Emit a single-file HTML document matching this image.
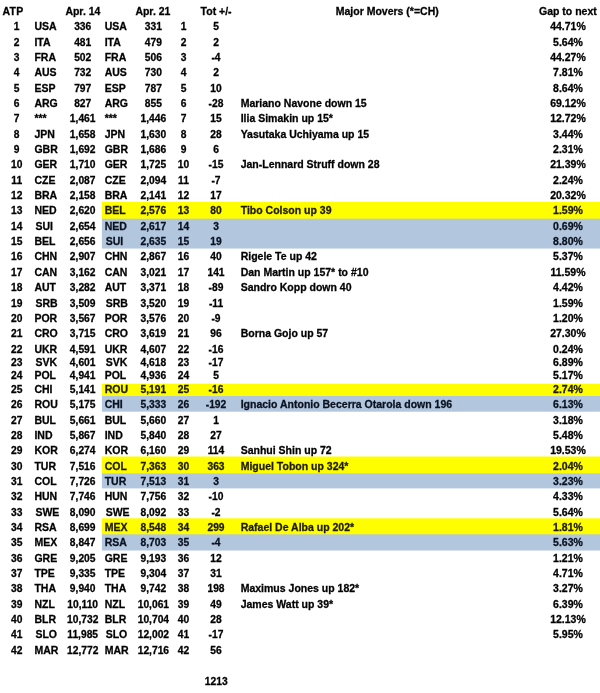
<!DOCTYPE html>
<html><head><meta charset="utf-8"><title>ATP</title>
<style>
html,body{margin:0;padding:0;background:#fff;}
body{width:600px;height:693px;position:relative;overflow:hidden;font-family:"Liberation Sans",sans-serif;font-weight:bold;color:#000;-webkit-text-stroke:0.28px #000;}
.t{position:absolute;height:14px;line-height:14px;white-space:pre;font-size:10.5px;}
.n{font-size:10.25px;height:15px;line-height:15px;}
.c{width:200px;margin-left:-100px;text-align:center;}
.l{text-align:left;}
.y{color:#1e1a00;-webkit-text-stroke-color:#1e1a00;}
.u{color:#0a1220;-webkit-text-stroke-color:#0a1220;}
#w{position:absolute;left:0;top:0;width:640px;height:693px;will-change:transform;filter:blur(0.4px);}
</style></head><body><div id="w">

<svg width="640" height="693" style="position:absolute;left:0;top:0">
<rect x="101.9" y="217.7" width="538.1" height="30.85" fill="#b2c6de"/>
<rect x="101.9" y="395.0" width="538.1" height="16.7" fill="#b2c6de"/>
<rect x="101.9" y="472.4" width="538.1" height="16.0" fill="#b2c6de"/>
<rect x="101.9" y="533.3" width="538.1" height="17.2" fill="#b2c6de"/>
<rect x="101.9" y="201.9" width="538.1" height="16.8" fill="#fffe00"/>
<rect x="101.9" y="383.7" width="538.1" height="12.3" fill="#fffe00"/>
<rect x="101.9" y="456.5" width="538.1" height="16.9" fill="#fffe00"/>
<rect x="101.9" y="518.3" width="538.1" height="16.0" fill="#fffe00"/>
</svg>
<div class="t l" style="left:2.4px;top:4px"><span style="letter-spacing:0.35px">ATP</span></div>
<div class="t c" style="left:82.9px;top:4px">Apr. 14</div>
<div class="t c" style="left:152.9px;top:4px">Apr. 21</div>
<div class="t c" style="left:216.1px;top:4px">Tot +/-</div>
<div class="t c" style="left:387.25px;top:4px">Major Movers (*=CH)</div>
<div class="t c" style="left:567.9px;top:4px">Gap to next</div>
<div class="t c n" style="left:16.7px;top:19px">1</div>
<div class="t l" style="left:34.4px;top:19px">USA</div>
<div class="t c n" style="left:82.7px;top:19px">336</div>
<div class="t l" style="left:104.7px;top:19px">USA</div>
<div class="t c n" style="left:153.4px;top:19px">331</div>
<div class="t c n" style="left:183.5px;top:19px">1</div>
<div class="t c n" style="left:216.0px;top:19px">5</div>
<div class="t c" style="left:568.0px;top:19px">44.71%</div>
<div class="t c n" style="left:16.7px;top:35px">2</div>
<div class="t l" style="left:34.4px;top:35px">ITA</div>
<div class="t c n" style="left:82.7px;top:35px">481</div>
<div class="t l" style="left:104.7px;top:35px">ITA</div>
<div class="t c n" style="left:153.4px;top:35px">479</div>
<div class="t c n" style="left:183.5px;top:35px">2</div>
<div class="t c n" style="left:216.0px;top:35px">2</div>
<div class="t c" style="left:568.0px;top:35px">5.64%</div>
<div class="t c n" style="left:16.7px;top:50px">3</div>
<div class="t l" style="left:34.4px;top:50px">FRA</div>
<div class="t c n" style="left:82.7px;top:50px">502</div>
<div class="t l" style="left:104.7px;top:50px">FRA</div>
<div class="t c n" style="left:153.4px;top:50px">506</div>
<div class="t c n" style="left:183.5px;top:50px">3</div>
<div class="t c n" style="left:216.0px;top:50px">-4</div>
<div class="t c" style="left:568.0px;top:50px">44.27%</div>
<div class="t c n" style="left:16.7px;top:65px">4</div>
<div class="t l" style="left:34.4px;top:65px">AUS</div>
<div class="t c n" style="left:82.7px;top:65px">732</div>
<div class="t l" style="left:104.7px;top:65px">AUS</div>
<div class="t c n" style="left:153.4px;top:65px">730</div>
<div class="t c n" style="left:183.5px;top:65px">4</div>
<div class="t c n" style="left:216.0px;top:65px">2</div>
<div class="t c" style="left:568.0px;top:65px">7.81%</div>
<div class="t c n" style="left:16.7px;top:81px">5</div>
<div class="t l" style="left:34.4px;top:81px">ESP</div>
<div class="t c n" style="left:82.7px;top:81px">797</div>
<div class="t l" style="left:104.7px;top:81px">ESP</div>
<div class="t c n" style="left:153.4px;top:81px">787</div>
<div class="t c n" style="left:183.5px;top:81px">5</div>
<div class="t c n" style="left:216.0px;top:81px">10</div>
<div class="t c" style="left:568.0px;top:81px">8.64%</div>
<div class="t c n" style="left:16.7px;top:96px">6</div>
<div class="t l" style="left:34.4px;top:96px">ARG</div>
<div class="t c n" style="left:82.7px;top:96px">827</div>
<div class="t l" style="left:104.7px;top:96px">ARG</div>
<div class="t c n" style="left:153.4px;top:96px">855</div>
<div class="t c n" style="left:183.5px;top:96px">6</div>
<div class="t c n" style="left:216.0px;top:96px">-28</div>
<div class="t l" style="left:240.7px;top:96px">Mariano Navone down 15</div>
<div class="t c" style="left:568.0px;top:96px">69.12%</div>
<div class="t c n" style="left:16.7px;top:111px">7</div>
<div class="t l" style="left:34.4px;top:111px">***</div>
<div class="t c n" style="left:82.7px;top:111px">1,461</div>
<div class="t l" style="left:104.7px;top:111px">***</div>
<div class="t c n" style="left:153.4px;top:111px">1,446</div>
<div class="t c n" style="left:183.5px;top:111px">7</div>
<div class="t c n" style="left:216.0px;top:111px">15</div>
<div class="t l" style="left:240.7px;top:111px">Ilia Simakin up 15*</div>
<div class="t c" style="left:568.0px;top:111px">12.72%</div>
<div class="t c n" style="left:16.7px;top:127px">8</div>
<div class="t l" style="left:34.4px;top:127px">JPN</div>
<div class="t c n" style="left:82.7px;top:127px">1,658</div>
<div class="t l" style="left:104.7px;top:127px">JPN</div>
<div class="t c n" style="left:153.4px;top:127px">1,630</div>
<div class="t c n" style="left:183.5px;top:127px">8</div>
<div class="t c n" style="left:216.0px;top:127px">28</div>
<div class="t l" style="left:240.7px;top:127px">Yasutaka Uchiyama up 15</div>
<div class="t c" style="left:568.0px;top:127px">3.44%</div>
<div class="t c n" style="left:16.7px;top:142px">9</div>
<div class="t l" style="left:34.4px;top:142px">GBR</div>
<div class="t c n" style="left:82.7px;top:142px">1,692</div>
<div class="t l" style="left:104.7px;top:142px">GBR</div>
<div class="t c n" style="left:153.4px;top:142px">1,686</div>
<div class="t c n" style="left:183.5px;top:142px">9</div>
<div class="t c n" style="left:216.0px;top:142px">6</div>
<div class="t c" style="left:568.0px;top:142px">2.31%</div>
<div class="t c n" style="left:16.7px;top:157px">10</div>
<div class="t l" style="left:34.4px;top:157px">GER</div>
<div class="t c n" style="left:82.7px;top:157px">1,710</div>
<div class="t l" style="left:104.7px;top:157px">GER</div>
<div class="t c n" style="left:153.4px;top:157px">1,725</div>
<div class="t c n" style="left:183.5px;top:157px">10</div>
<div class="t c n" style="left:216.0px;top:157px">-15</div>
<div class="t l" style="left:240.7px;top:157px">Jan-Lennard Struff down 28</div>
<div class="t c" style="left:568.0px;top:157px">21.39%</div>
<div class="t c n" style="left:16.7px;top:173px">11</div>
<div class="t l" style="left:34.4px;top:173px">CZE</div>
<div class="t c n" style="left:82.7px;top:173px">2,087</div>
<div class="t l" style="left:104.7px;top:173px">CZE</div>
<div class="t c n" style="left:153.4px;top:173px">2,094</div>
<div class="t c n" style="left:183.5px;top:173px">11</div>
<div class="t c n" style="left:216.0px;top:173px">-7</div>
<div class="t c" style="left:568.0px;top:173px">2.24%</div>
<div class="t c n" style="left:16.7px;top:188px">12</div>
<div class="t l" style="left:34.4px;top:188px">BRA</div>
<div class="t c n" style="left:82.7px;top:188px">2,158</div>
<div class="t l" style="left:104.7px;top:188px">BRA</div>
<div class="t c n" style="left:153.4px;top:188px">2,141</div>
<div class="t c n" style="left:183.5px;top:188px">12</div>
<div class="t c n" style="left:216.0px;top:188px">17</div>
<div class="t c" style="left:568.0px;top:188px">20.32%</div>
<div class="t c n" style="left:16.7px;top:203px">13</div>
<div class="t l" style="left:34.4px;top:203px">NED</div>
<div class="t c n" style="left:82.7px;top:203px">2,620</div>
<div class="t l y" style="left:104.7px;top:203px">BEL</div>
<div class="t c n y" style="left:153.4px;top:203px">2,576</div>
<div class="t c n y" style="left:183.5px;top:203px">13</div>
<div class="t c n y" style="left:216.0px;top:203px">80</div>
<div class="t l y" style="left:240.7px;top:203px">Tibo Colson up 39</div>
<div class="t c y" style="left:568.0px;top:203px">1.59%</div>
<div class="t c n" style="left:16.7px;top:219px">14</div>
<div class="t l" style="left:35.4px;top:219px">SUI</div>
<div class="t c n" style="left:82.7px;top:219px">2,654</div>
<div class="t l u" style="left:104.7px;top:219px">NED</div>
<div class="t c n u" style="left:153.4px;top:219px">2,617</div>
<div class="t c n u" style="left:183.5px;top:219px">14</div>
<div class="t c n u" style="left:216.0px;top:219px">3</div>
<div class="t c u" style="left:568.0px;top:219px">0.69%</div>
<div class="t c n" style="left:16.7px;top:234px">15</div>
<div class="t l" style="left:34.4px;top:234px">BEL</div>
<div class="t c n" style="left:82.7px;top:234px">2,656</div>
<div class="t l u" style="left:105.7px;top:234px">SUI</div>
<div class="t c n u" style="left:153.4px;top:234px">2,635</div>
<div class="t c n u" style="left:183.5px;top:234px">15</div>
<div class="t c n u" style="left:216.0px;top:234px">19</div>
<div class="t c u" style="left:568.0px;top:234px">8.80%</div>
<div class="t c n" style="left:16.7px;top:249px">16</div>
<div class="t l" style="left:34.4px;top:249px">CHN</div>
<div class="t c n" style="left:82.7px;top:249px">2,907</div>
<div class="t l" style="left:104.7px;top:249px">CHN</div>
<div class="t c n" style="left:153.4px;top:249px">2,867</div>
<div class="t c n" style="left:183.5px;top:249px">16</div>
<div class="t c n" style="left:216.0px;top:249px">40</div>
<div class="t l" style="left:240.7px;top:249px">Rigele Te up 42</div>
<div class="t c" style="left:568.0px;top:249px">5.37%</div>
<div class="t c n" style="left:16.7px;top:265px">17</div>
<div class="t l" style="left:34.4px;top:265px">CAN</div>
<div class="t c n" style="left:82.7px;top:265px">3,162</div>
<div class="t l" style="left:104.7px;top:265px">CAN</div>
<div class="t c n" style="left:153.4px;top:265px">3,021</div>
<div class="t c n" style="left:183.5px;top:265px">17</div>
<div class="t c n" style="left:216.0px;top:265px">141</div>
<div class="t l" style="left:240.7px;top:265px">Dan Martin up 157* to #10</div>
<div class="t c" style="left:568.0px;top:265px">11.59%</div>
<div class="t c n" style="left:16.7px;top:280px">18</div>
<div class="t l" style="left:34.4px;top:280px">AUT</div>
<div class="t c n" style="left:82.7px;top:280px">3,282</div>
<div class="t l" style="left:104.7px;top:280px">AUT</div>
<div class="t c n" style="left:153.4px;top:280px">3,371</div>
<div class="t c n" style="left:183.5px;top:280px">18</div>
<div class="t c n" style="left:216.0px;top:280px">-89</div>
<div class="t l" style="left:240.7px;top:280px">Sandro Kopp down 40</div>
<div class="t c" style="left:568.0px;top:280px">4.42%</div>
<div class="t c n" style="left:16.7px;top:296px">19</div>
<div class="t l" style="left:35.4px;top:296px">SRB</div>
<div class="t c n" style="left:82.7px;top:296px">3,509</div>
<div class="t l" style="left:105.7px;top:296px">SRB</div>
<div class="t c n" style="left:153.4px;top:296px">3,520</div>
<div class="t c n" style="left:183.5px;top:296px">19</div>
<div class="t c n" style="left:216.0px;top:296px">-11</div>
<div class="t c" style="left:568.0px;top:296px">1.59%</div>
<div class="t c n" style="left:16.7px;top:311px">20</div>
<div class="t l" style="left:34.4px;top:311px">POR</div>
<div class="t c n" style="left:82.7px;top:311px">3,567</div>
<div class="t l" style="left:104.7px;top:311px">POR</div>
<div class="t c n" style="left:153.4px;top:311px">3,576</div>
<div class="t c n" style="left:183.5px;top:311px">20</div>
<div class="t c n" style="left:216.0px;top:311px">-9</div>
<div class="t c" style="left:568.0px;top:311px">1.20%</div>
<div class="t c n" style="left:16.7px;top:326px">21</div>
<div class="t l" style="left:34.4px;top:326px">CRO</div>
<div class="t c n" style="left:82.7px;top:326px">3,715</div>
<div class="t l" style="left:104.7px;top:326px">CRO</div>
<div class="t c n" style="left:153.4px;top:326px">3,619</div>
<div class="t c n" style="left:183.5px;top:326px">21</div>
<div class="t c n" style="left:216.0px;top:326px">96</div>
<div class="t l" style="left:240.7px;top:326px">Borna Gojo up 57</div>
<div class="t c" style="left:568.0px;top:326px">27.30%</div>
<div class="t c n" style="left:16.7px;top:342px">22</div>
<div class="t l" style="left:34.4px;top:342px">UKR</div>
<div class="t c n" style="left:82.7px;top:342px">4,591</div>
<div class="t l" style="left:104.7px;top:342px">UKR</div>
<div class="t c n" style="left:153.4px;top:342px">4,607</div>
<div class="t c n" style="left:183.5px;top:342px">22</div>
<div class="t c n" style="left:216.0px;top:342px">-16</div>
<div class="t c" style="left:568.0px;top:342px">0.24%</div>
<div class="t c n" style="left:16.7px;top:355px">23</div>
<div class="t l" style="left:35.4px;top:355px">SVK</div>
<div class="t c n" style="left:82.7px;top:355px">4,601</div>
<div class="t l" style="left:105.7px;top:355px">SVK</div>
<div class="t c n" style="left:153.4px;top:355px">4,618</div>
<div class="t c n" style="left:183.5px;top:355px">23</div>
<div class="t c n" style="left:216.0px;top:355px">-17</div>
<div class="t c" style="left:568.0px;top:355px">6.89%</div>
<div class="t c n" style="left:16.7px;top:368px">24</div>
<div class="t l" style="left:34.4px;top:368px">POL</div>
<div class="t c n" style="left:82.7px;top:368px">4,941</div>
<div class="t l" style="left:104.7px;top:368px">POL</div>
<div class="t c n" style="left:153.4px;top:368px">4,936</div>
<div class="t c n" style="left:183.5px;top:368px">24</div>
<div class="t c n" style="left:216.0px;top:368px">5</div>
<div class="t c" style="left:568.0px;top:368px">5.17%</div>
<div class="t c n" style="left:16.7px;top:382px">25</div>
<div class="t l" style="left:34.4px;top:382px">CHI</div>
<div class="t c n" style="left:82.7px;top:382px">5,141</div>
<div class="t l y" style="left:104.7px;top:382px">ROU</div>
<div class="t c n y" style="left:153.4px;top:382px">5,191</div>
<div class="t c n y" style="left:183.5px;top:382px">25</div>
<div class="t c n y" style="left:216.0px;top:382px">-16</div>
<div class="t c y" style="left:568.0px;top:382px">2.74%</div>
<div class="t c n" style="left:16.7px;top:397px">26</div>
<div class="t l" style="left:34.4px;top:397px">ROU</div>
<div class="t c n" style="left:82.7px;top:397px">5,175</div>
<div class="t l u" style="left:104.7px;top:397px">CHI</div>
<div class="t c n u" style="left:153.4px;top:397px">5,333</div>
<div class="t c n u" style="left:183.5px;top:397px">26</div>
<div class="t c n u" style="left:216.0px;top:397px">-192</div>
<div class="t l u" style="left:240.7px;top:397px">Ignacio Antonio Becerra Otarola down 196</div>
<div class="t c u" style="left:568.0px;top:397px">6.13%</div>
<div class="t c n" style="left:16.7px;top:413px">27</div>
<div class="t l" style="left:34.4px;top:413px">BUL</div>
<div class="t c n" style="left:82.7px;top:413px">5,661</div>
<div class="t l" style="left:104.7px;top:413px">BUL</div>
<div class="t c n" style="left:153.4px;top:413px">5,660</div>
<div class="t c n" style="left:183.5px;top:413px">27</div>
<div class="t c n" style="left:216.0px;top:413px">1</div>
<div class="t c" style="left:568.0px;top:413px">3.18%</div>
<div class="t c n" style="left:16.7px;top:428px">28</div>
<div class="t l" style="left:34.4px;top:428px">IND</div>
<div class="t c n" style="left:82.7px;top:428px">5,867</div>
<div class="t l" style="left:104.7px;top:428px">IND</div>
<div class="t c n" style="left:153.4px;top:428px">5,840</div>
<div class="t c n" style="left:183.5px;top:428px">28</div>
<div class="t c n" style="left:216.0px;top:428px">27</div>
<div class="t c" style="left:568.0px;top:428px">5.48%</div>
<div class="t c n" style="left:16.7px;top:443px">29</div>
<div class="t l" style="left:34.4px;top:443px">KOR</div>
<div class="t c n" style="left:82.7px;top:443px">6,274</div>
<div class="t l" style="left:104.7px;top:443px">KOR</div>
<div class="t c n" style="left:153.4px;top:443px">6,160</div>
<div class="t c n" style="left:183.5px;top:443px">29</div>
<div class="t c n" style="left:216.0px;top:443px">114</div>
<div class="t l" style="left:240.7px;top:443px">Sanhui Shin up 72</div>
<div class="t c" style="left:568.0px;top:443px">19.53%</div>
<div class="t c n" style="left:16.7px;top:459px">30</div>
<div class="t l" style="left:34.4px;top:459px">TUR</div>
<div class="t c n" style="left:82.7px;top:459px">7,516</div>
<div class="t l y" style="left:104.7px;top:459px">COL</div>
<div class="t c n y" style="left:153.4px;top:459px">7,363</div>
<div class="t c n y" style="left:183.5px;top:459px">30</div>
<div class="t c n y" style="left:216.0px;top:459px">363</div>
<div class="t l y" style="left:240.7px;top:459px">Miguel Tobon up 324*</div>
<div class="t c y" style="left:568.0px;top:459px">2.04%</div>
<div class="t c n" style="left:16.7px;top:474px">31</div>
<div class="t l" style="left:34.4px;top:474px">COL</div>
<div class="t c n" style="left:82.7px;top:474px">7,726</div>
<div class="t l u" style="left:104.7px;top:474px">TUR</div>
<div class="t c n u" style="left:153.4px;top:474px">7,513</div>
<div class="t c n u" style="left:183.5px;top:474px">31</div>
<div class="t c n u" style="left:216.0px;top:474px">3</div>
<div class="t c u" style="left:568.0px;top:474px">3.23%</div>
<div class="t c n" style="left:16.7px;top:489px">32</div>
<div class="t l" style="left:34.4px;top:489px">HUN</div>
<div class="t c n" style="left:82.7px;top:489px">7,746</div>
<div class="t l" style="left:104.7px;top:489px">HUN</div>
<div class="t c n" style="left:153.4px;top:489px">7,756</div>
<div class="t c n" style="left:183.5px;top:489px">32</div>
<div class="t c n" style="left:216.0px;top:489px">-10</div>
<div class="t c" style="left:568.0px;top:489px">4.33%</div>
<div class="t c n" style="left:16.7px;top:505px">33</div>
<div class="t l" style="left:35.4px;top:505px">SWE</div>
<div class="t c n" style="left:82.7px;top:505px">8,090</div>
<div class="t l" style="left:105.7px;top:505px">SWE</div>
<div class="t c n" style="left:153.4px;top:505px">8,092</div>
<div class="t c n" style="left:183.5px;top:505px">33</div>
<div class="t c n" style="left:216.0px;top:505px">-2</div>
<div class="t c" style="left:568.0px;top:505px">5.64%</div>
<div class="t c n" style="left:16.7px;top:520px">34</div>
<div class="t l" style="left:34.4px;top:520px">RSA</div>
<div class="t c n" style="left:82.7px;top:520px">8,699</div>
<div class="t l y" style="left:104.7px;top:520px">MEX</div>
<div class="t c n y" style="left:153.4px;top:520px">8,548</div>
<div class="t c n y" style="left:183.5px;top:520px">34</div>
<div class="t c n y" style="left:216.0px;top:520px">299</div>
<div class="t l y" style="left:240.7px;top:520px">Rafael De Alba up 202*</div>
<div class="t c y" style="left:568.0px;top:520px">1.81%</div>
<div class="t c n" style="left:16.7px;top:535px">35</div>
<div class="t l" style="left:34.4px;top:535px">MEX</div>
<div class="t c n" style="left:82.7px;top:535px">8,847</div>
<div class="t l u" style="left:104.7px;top:535px">RSA</div>
<div class="t c n u" style="left:153.4px;top:535px">8,703</div>
<div class="t c n u" style="left:183.5px;top:535px">35</div>
<div class="t c n u" style="left:216.0px;top:535px">-4</div>
<div class="t c u" style="left:568.0px;top:535px">5.63%</div>
<div class="t c n" style="left:16.7px;top:551px">36</div>
<div class="t l" style="left:34.4px;top:551px">GRE</div>
<div class="t c n" style="left:82.7px;top:551px">9,205</div>
<div class="t l" style="left:104.7px;top:551px">GRE</div>
<div class="t c n" style="left:153.4px;top:551px">9,193</div>
<div class="t c n" style="left:183.5px;top:551px">36</div>
<div class="t c n" style="left:216.0px;top:551px">12</div>
<div class="t c" style="left:568.0px;top:551px">1.21%</div>
<div class="t c n" style="left:16.7px;top:566px">37</div>
<div class="t l" style="left:34.4px;top:566px">TPE</div>
<div class="t c n" style="left:82.7px;top:566px">9,335</div>
<div class="t l" style="left:104.7px;top:566px">TPE</div>
<div class="t c n" style="left:153.4px;top:566px">9,304</div>
<div class="t c n" style="left:183.5px;top:566px">37</div>
<div class="t c n" style="left:216.0px;top:566px">31</div>
<div class="t c" style="left:568.0px;top:566px">4.71%</div>
<div class="t c n" style="left:16.7px;top:581px">38</div>
<div class="t l" style="left:34.4px;top:581px">THA</div>
<div class="t c n" style="left:82.7px;top:581px">9,940</div>
<div class="t l" style="left:104.7px;top:581px">THA</div>
<div class="t c n" style="left:153.4px;top:581px">9,742</div>
<div class="t c n" style="left:183.5px;top:581px">38</div>
<div class="t c n" style="left:216.0px;top:581px">198</div>
<div class="t l" style="left:240.7px;top:581px">Maximus Jones up 182*</div>
<div class="t c" style="left:568.0px;top:581px">3.27%</div>
<div class="t c n" style="left:16.7px;top:597px">39</div>
<div class="t l" style="left:34.4px;top:597px">NZL</div>
<div class="t c n" style="left:82.7px;top:597px">10,110</div>
<div class="t l" style="left:104.7px;top:597px">NZL</div>
<div class="t c n" style="left:153.4px;top:597px">10,061</div>
<div class="t c n" style="left:183.5px;top:597px">39</div>
<div class="t c n" style="left:216.0px;top:597px">49</div>
<div class="t l" style="left:240.7px;top:597px">James Watt up 39*</div>
<div class="t c" style="left:568.0px;top:597px">6.39%</div>
<div class="t c n" style="left:16.7px;top:612px">40</div>
<div class="t l" style="left:34.4px;top:612px">BLR</div>
<div class="t c n" style="left:82.7px;top:612px">10,732</div>
<div class="t l" style="left:104.7px;top:612px">BLR</div>
<div class="t c n" style="left:153.4px;top:612px">10,704</div>
<div class="t c n" style="left:183.5px;top:612px">40</div>
<div class="t c n" style="left:216.0px;top:612px">28</div>
<div class="t c" style="left:568.0px;top:612px">12.13%</div>
<div class="t c n" style="left:16.7px;top:627px">41</div>
<div class="t l" style="left:35.4px;top:627px">SLO</div>
<div class="t c n" style="left:82.7px;top:627px">11,985</div>
<div class="t l" style="left:105.7px;top:627px">SLO</div>
<div class="t c n" style="left:153.4px;top:627px">12,002</div>
<div class="t c n" style="left:183.5px;top:627px">41</div>
<div class="t c n" style="left:216.0px;top:627px">-17</div>
<div class="t c" style="left:568.0px;top:627px">5.95%</div>
<div class="t c n" style="left:16.7px;top:643px">42</div>
<div class="t l" style="left:34.4px;top:643px">MAR</div>
<div class="t c n" style="left:82.7px;top:643px">12,772</div>
<div class="t l" style="left:104.7px;top:643px">MAR</div>
<div class="t c n" style="left:153.4px;top:643px">12,716</div>
<div class="t c n" style="left:183.5px;top:643px">42</div>
<div class="t c n" style="left:216.0px;top:643px">56</div>
<div class="t c n" style="left:216.25px;top:674px">1213</div>
</div></body></html>
